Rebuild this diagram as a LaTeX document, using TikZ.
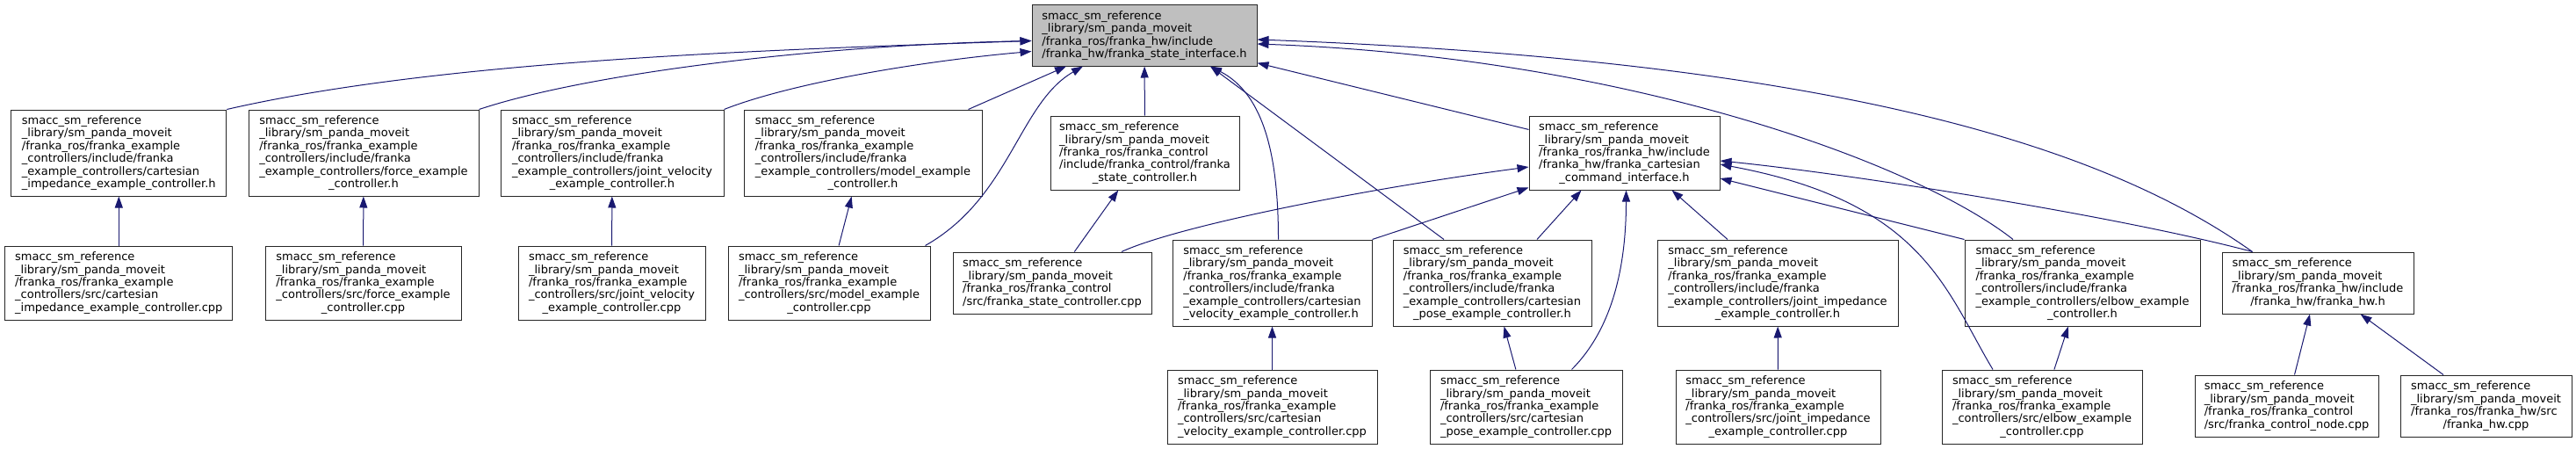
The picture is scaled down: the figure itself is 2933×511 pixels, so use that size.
\documentclass[tikz,border=0pt]{standalone}
\usepackage{fontspec}
\setmainfont{DejaVu Sans}
\usetikzlibrary{arrows.meta}
\definecolor{edgeblue}{HTML}{191970}
\definecolor{rootgray}{HTML}{BFBFBF}

\begin{document}
\begin{tikzpicture}[
  x=1pt, y=-1pt,
  file/.style={draw=black!85, line width=1pt, fill=white, align=left, inner sep=3pt, font=\fontsize{13}{14.4}\selectfont},
  arr/.style={-{Triangle[length=13pt, width=9pt]}, edgeblue, line width=1pt},
]
\useasboundingbox (0,0) rectangle (2933,511);

% --- included header ---
\node[file, fill=rootgray, minimum width=256pt, minimum height=69pt] (root) at (1303,40.5) {smacc\_sm\_reference\\\_library/sm\_panda\_moveit\\/franka\_ros/franka\_hw/include\\/franka\_hw/franka\_state\_interface.h};

% --- first row ---
\node[file, minimum width=245pt, minimum height=98pt] (cih) at (135.3,174) {smacc\_sm\_reference\\\_library/sm\_panda\_moveit\\/franka\_ros/franka\_example\\\_controllers/include/franka\\\_example\_controllers/cartesian\\\_impedance\_example\_controller.h};
\node[file, minimum width=262pt, minimum height=98pt] (fh) at (414,174) {smacc\_sm\_reference\\\_library/sm\_panda\_moveit\\/franka\_ros/franka\_example\\\_controllers/include/franka\\\_example\_controllers/force\_example\\\hfill\_controller.h\hfill\mbox{}};
\node[file, minimum width=254pt, minimum height=98pt] (jvh) at (697,174) {smacc\_sm\_reference\\\_library/sm\_panda\_moveit\\/franka\_ros/franka\_example\\\_controllers/include/franka\\\_example\_controllers/joint\_velocity\\\hfill\_example\_controller.h\hfill\mbox{}};
\node[file, minimum width=271pt, minimum height=98pt] (mh) at (982.5,174) {smacc\_sm\_reference\\\_library/sm\_panda\_moveit\\/franka\_ros/franka\_example\\\_controllers/include/franka\\\_example\_controllers/model\_example\\\hfill\_controller.h\hfill\mbox{}};
\node[file, minimum width=215pt, minimum height=84pt] (sch) at (1303.5,174) {smacc\_sm\_reference\\\_library/sm\_panda\_moveit\\/franka\_ros/franka\_control\\/include/franka\_control/franka\\\hfill\_state\_controller.h\hfill\mbox{}};
\node[file, minimum width=217pt, minimum height=84pt] (ccih) at (1849.5,174) {smacc\_sm\_reference\\\_library/sm\_panda\_moveit\\/franka\_ros/franka\_hw/include\\/franka\_hw/franka\_cartesian\\\hfill\_command\_interface.h\hfill\mbox{}};

% --- second row ---
\node[file, minimum width=259pt, minimum height=84pt] (cicpp) at (135.3,322) {smacc\_sm\_reference\\\_library/sm\_panda\_moveit\\/franka\_ros/franka\_example\\\_controllers/src/cartesian\\\_impedance\_example\_controller.cpp};
\node[file, minimum width=223pt, minimum height=84pt] (fcpp) at (413.5,322) {smacc\_sm\_reference\\\_library/sm\_panda\_moveit\\/franka\_ros/franka\_example\\\_controllers/src/force\_example\\\hfill\_controller.cpp\hfill\mbox{}};
\node[file, minimum width=213pt, minimum height=84pt] (jvcpp) at (696.5,322) {smacc\_sm\_reference\\\_library/sm\_panda\_moveit\\/franka\_ros/franka\_example\\\_controllers/src/joint\_velocity\\\hfill\_example\_controller.cpp\hfill\mbox{}};
\node[file, minimum width=230pt, minimum height=84pt] (mcpp) at (944,322) {smacc\_sm\_reference\\\_library/sm\_panda\_moveit\\/franka\_ros/franka\_example\\\_controllers/src/model\_example\\\hfill\_controller.cpp\hfill\mbox{}};
\node[file, minimum width=226pt, minimum height=70pt] (sccpp) at (1198,322) {smacc\_sm\_reference\\\_library/sm\_panda\_moveit\\/franka\_ros/franka\_control\\/src/franka\_state\_controller.cpp};
\node[file, minimum width=227pt, minimum height=98pt] (cvh) at (1448.5,322) {smacc\_sm\_reference\\\_library/sm\_panda\_moveit\\/franka\_ros/franka\_example\\\_controllers/include/franka\\\_example\_controllers/cartesian\\\_velocity\_example\_controller.h};
\node[file, minimum width=226pt, minimum height=98pt] (cph) at (1699,322) {smacc\_sm\_reference\\\_library/sm\_panda\_moveit\\/franka\_ros/franka\_example\\\_controllers/include/franka\\\_example\_controllers/cartesian\\\hfill\_pose\_example\_controller.h\hfill\mbox{}};
\node[file, minimum width=274pt, minimum height=98pt] (jih) at (2024,322) {smacc\_sm\_reference\\\_library/sm\_panda\_moveit\\/franka\_ros/franka\_example\\\_controllers/include/franka\\\_example\_controllers/joint\_impedance\\\hfill\_example\_controller.h\hfill\mbox{}};
\node[file, minimum width=268pt, minimum height=98pt] (eh) at (2371,322) {smacc\_sm\_reference\\\_library/sm\_panda\_moveit\\/franka\_ros/franka\_example\\\_controllers/include/franka\\\_example\_controllers/elbow\_example\\\hfill\_controller.h\hfill\mbox{}};
\node[file, minimum width=218pt, minimum height=70pt] (hwh) at (2639,322) {smacc\_sm\_reference\\\_library/sm\_panda\_moveit\\/franka\_ros/franka\_hw/include\\\hfill/franka\_hw/franka\_hw.h\hfill\mbox{}};

% --- third row ---
\node[file, minimum width=239pt, minimum height=84pt] (cvcpp) at (1448.5,463) {smacc\_sm\_reference\\\_library/sm\_panda\_moveit\\/franka\_ros/franka\_example\\\_controllers/src/cartesian\\\_velocity\_example\_controller.cpp};
\node[file, minimum width=219pt, minimum height=84pt] (cpcpp) at (1737.5,463) {smacc\_sm\_reference\\\_library/sm\_panda\_moveit\\/franka\_ros/franka\_example\\\_controllers/src/cartesian\\\_pose\_example\_controller.cpp};
\node[file, minimum width=233pt, minimum height=84pt] (jicpp) at (2024.5,463) {smacc\_sm\_reference\\\_library/sm\_panda\_moveit\\/franka\_ros/franka\_example\\\_controllers/src/joint\_impedance\\\hfill\_example\_controller.cpp\hfill\mbox{}};
\node[file, minimum width=228pt, minimum height=84pt] (ecpp) at (2325,463) {smacc\_sm\_reference\\\_library/sm\_panda\_moveit\\/franka\_ros/franka\_example\\\_controllers/src/elbow\_example\\\hfill\_controller.cpp\hfill\mbox{}};
\node[file, minimum width=209pt, minimum height=70pt] (cncpp) at (2603.5,462) {smacc\_sm\_reference\\\_library/sm\_panda\_moveit\\/franka\_ros/franka\_control\\/src/franka\_control\_node.cpp};
\node[file, minimum width=195pt, minimum height=70pt] (hwcpp) at (2830.5,462) {smacc\_sm\_reference\\\_library/sm\_panda\_moveit\\/franka\_ros/franka\_hw/src\\\hfill/franka\_hw.cpp\hfill\mbox{}};

% --- includes of franka_state_interface.h ---
\draw[arr] (cih.north east) .. controls +(244,-56) and +(-300,10) .. ([yshift=-6pt]root.west);
\draw[arr] (fh.north east) .. controls +(120,-40) and +(-250,5) .. ([yshift=-6pt]root.west);
\draw[arr] (jvh.north east) .. controls +(76,-30) and +(-125,11) .. ([yshift=-18pt]root.west);
\draw[arr] ([xshift=-16pt]mh.north east) -- ([xshift=-89pt]root.south);
\draw[arr] ([xshift=-6pt]mcpp.north east) .. controls +(97,-55) and +(-73,42) .. ([xshift=-70pt]root.south);
\draw[arr] (sch) -- (root);
\draw[arr] ([xshift=7pt]cvh.north) .. controls +(0,-93) and +(62,32) .. ([xshift=75pt]root.south);
\draw[arr] ([xshift=-55pt]cph.north) -- ([xshift=75pt]root.south);
\draw[arr] (ccih) -- (root);
\draw[arr] ([xshift=-79pt]eh.north) .. controls +(-112,-88) and +(419,15) .. ([yshift=-9.5pt]root.east);
\draw[arr] ([xshift=35pt]hwh.north west) .. controls +(-165,-117) and +(669,25) .. ([yshift=-4.5pt]root.east);

% --- includes of franka_cartesian_command_interface.h ---
\draw[arr] ([xshift=79pt]sccpp.north) .. controls +(63,-29) and +(-189,25) .. ([yshift=-16pt]ccih.west);
\draw[arr] (cvh.north east) -- ([yshift=3pt]ccih.south west);
\draw[arr] ([xshift=51pt]cph.north) -- ([xshift=-49pt]ccih.south);
\draw[arr] ([xshift=52pt]cpcpp.north) .. controls +(50,-50) and +(0,78) .. ([xshift=2pt]ccih.south);
\draw[arr] ([xshift=-57pt]jih.north) -- ([xshift=54pt]ccih.south);
\draw[arr] (eh.north west) -- ([yshift=-29pt]ccih.east);
\draw[arr] ([xshift=-56pt]ecpp.north) .. controls +(-54,-90) and +(232,43) .. ([yshift=-13pt]ccih.east);
\draw[arr] ([xshift=35pt]hwh.north west) .. controls +(-150,-40) and +(150,15) .. ([yshift=-9pt]ccih.east);

% --- sources to their headers ---
\draw[arr] (cicpp) -- (cih);
\draw[arr] (fcpp) -- (fh);
\draw[arr] (jvcpp) -- (jvh);
\draw[arr] (mcpp) -- (mh);
\draw[arr] (sccpp) -- (sch);
\draw[arr] (cvcpp) -- (cvh);
\draw[arr] (cpcpp) -- (cph);
\draw[arr] (jicpp) -- (jih);
\draw[arr] (ecpp) -- (eh);
\draw[arr] (cncpp) -- (hwh);
\draw[arr] (hwcpp) -- (hwh);

\end{tikzpicture}
\end{document}
